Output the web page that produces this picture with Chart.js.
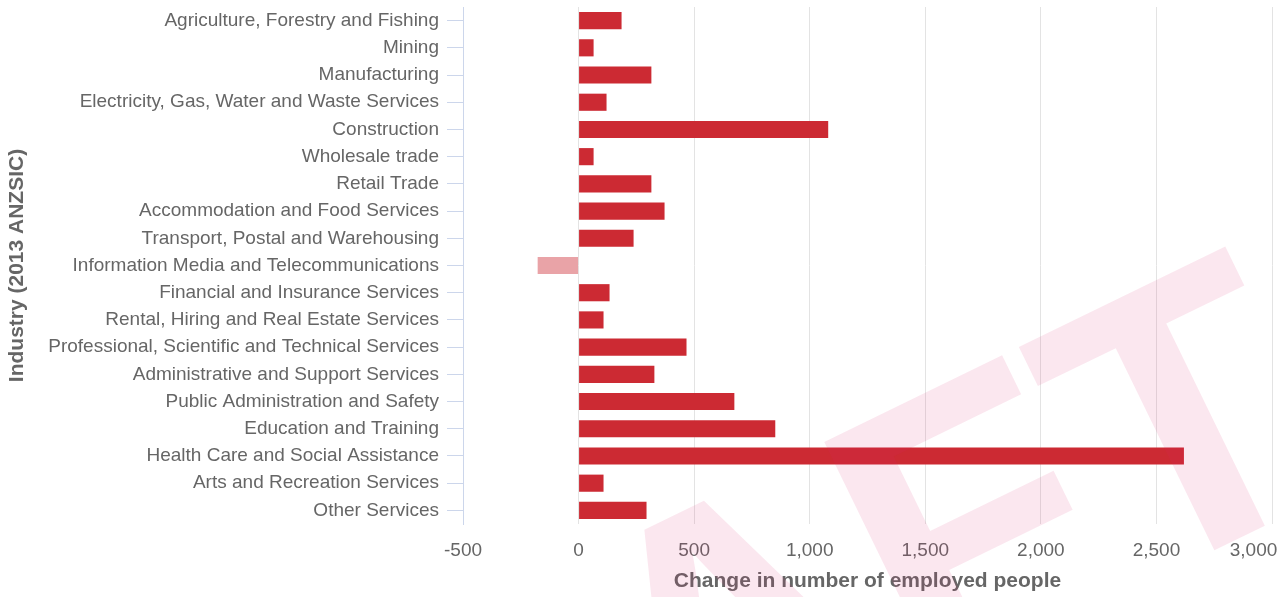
<!DOCTYPE html>
<html>
<head>
<meta charset="utf-8">
<script src="https://cdn.jsdelivr.net/npm/chart.js@4"></script>
<style>
  html, body { margin: 0; padding: 0; background: #fff; }
  #wrap { width: 1283px; height: 597px; }
</style>
</head>
<body>
<div id="wrap"><canvas id="chart"></canvas></div>
<script>
const industries = [
  "Agriculture, Forestry and Fishing",
  "Mining",
  "Manufacturing",
  "Electricity, Gas, Water and Waste Services",
  "Construction",
  "Wholesale trade",
  "Retail Trade",
  "Accommodation and Food Services",
  "Transport, Postal and Warehousing",
  "Information Media and Telecommunications",
  "Financial and Insurance Services",
  "Rental, Hiring and Real Estate Services",
  "Professional, Scientific and Technical Services",
  "Administrative and Support Services",
  "Public Administration and Safety",
  "Education and Training",
  "Health Care and Social Assistance",
  "Arts and Recreation Services",
  "Other Services"
]

const employmentChange = [
  186, 65, 315, 121, 1080, 65, 315, 372, 238, -177,
  134, 108, 467, 328, 674, 851, 2619, 108, 294
]

const xTicks = [-500, 0, 500, 1000, 1500, 2000, 2500, 3000]

const FONT = "'Liberation Sans', Arial, sans-serif"


/* ===== watermark ===== */

const watermark = {
  id: "watermark",
  afterDraw(chart) {
    const ctx = chart.ctx
    ctx.save()
    ctx.translate(159, 1065)
    ctx.rotate(-26 * Math.PI / 180)
    ctx.font = "bold 390px " + FONT
    ctx.fillStyle = "rgba(220, 40, 110, 0.11)"
    ctx.textBaseline = "alphabetic"
    ctx.fillText("DRAFT", 0, 0)
    ctx.restore()
  }
}


/* ===== chart ===== */

const ctx = document.getElementById("chart").getContext("2d")

new Chart(ctx, {

  type: "bar",

  data: {
    labels: industries,
    datasets: [
      {
        label: "Change",
        data: employmentChange,
        backgroundColor: employmentChange.map(v =>
          v < 0 ? "#e9a3a7" : "#cc2a33"
        ),
        borderWidth: 0,
        categoryPercentage: 1,
        barPercentage: 0.63
      }
    ]
  },

  options: {
    indexAxis: "y",
    responsive: true,
    maintainAspectRatio: false,
    animation: false,
    layout: {
      padding: { top: 7, right: 11, bottom: 0, left: 0 }
    },
    plugins: {
      legend: { display: false },
      tooltip: { enabled: false }
    },
    scales: {
      x: {
        min: -500,
        max: 3000,
        afterBuildTicks(scale) {
          scale.ticks = xTicks.map(v => ({ value: v }))
        },
        afterFit(scale) {
          scale.height = 73
          scale.paddingLeft = 0
          scale.paddingRight = 0
        },
        grid: {
          color: ctx => ctx.tick && ctx.tick.value === -500 ? "rgba(0,0,0,0)" : "#e3e3e3",
          lineWidth: 1,
          drawTicks: false
        },
        border: { display: false },
        ticks: {
          color: "#666666",
          padding: 15,
          font: { family: FONT, size: 19 },
          // last label is pulled inside the plot like the original
          callback: v => v.toLocaleString("en-US") +
            (v === xTicks[xTicks.length - 1] ? "       " : "")
        },
        title: {
          display: true,
          text: "Change in number of employed people",
          color: "#666666",
          font: { family: FONT, size: 21, weight: "bold" },
          padding: { top: 0, bottom: 3 }
        }
      },
      y: {
        afterFit(scale) {
          scale.width = 463
          scale.paddingTop = 0
          scale.paddingBottom = 0
        },
        grid: {
          offset: false,
          drawOnChartArea: false,
          color: "#ccd6eb",
          tickLength: 16,
          lineWidth: 1
        },
        border: { display: true, color: "#ccd6eb", width: 1 },
        ticks: {
          color: "#666666",
          padding: 8,
          autoSkip: false,
          font: { family: FONT, size: 19 }
        },
        title: {
          display: true,
          text: "Industry (2013 ANZSIC)",
          color: "#666666",
          font: { family: FONT, size: 21, weight: "bold" },
          padding: { top: 5, bottom: 0 }
        }
      }
    }
  },

  plugins: [watermark]

})
</script>
</body>
</html>
